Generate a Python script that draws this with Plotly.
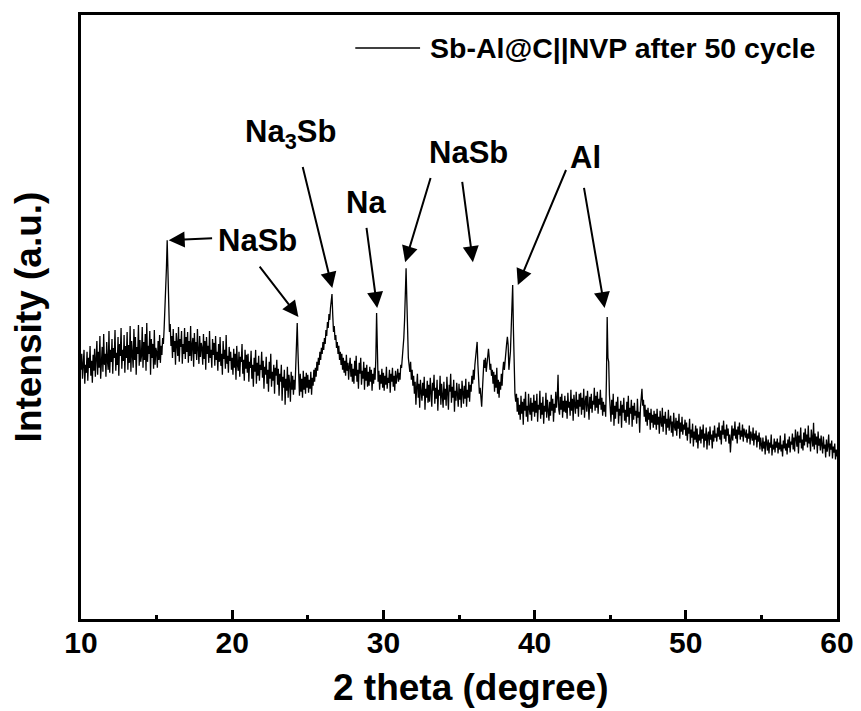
import plotly.graph_objects as go

# ---- data (intensity in arbitrary units) ----
scan_start = 10.0
scan_step = 0.05
intensity = [
    250, 266, 241, 258, 270, 236, 255, 247, 268, 239, 262, 252, 274, 244, 259, 237, 265, 249, 271, 243,  # 10
    256, 279, 245, 268, 252, 284, 241, 263, 273, 248, 286, 255, 266, 243, 278, 259, 250, 289, 247, 270,  # 11
    258, 281, 246, 272, 262, 290, 249, 267, 255, 283, 244, 276, 264, 292, 251, 270, 259, 285, 247, 274,  # 12
    262, 288, 250, 275, 257, 294, 248, 279, 265, 252, 291, 260, 283, 245, 273, 266, 295, 254, 280, 258,  # 13
    264, 293, 252, 278, 260, 286, 249, 297, 258, 274, 266, 289, 245, 281, 262, 276, 251, 290, 255, 272,  # 14
    268, 252, 279, 260, 285, 257, 274, 265, 282, 276, 292, 310, 322, 352, 380, 340, 300, 288, 296, 274,  # 15
    284, 262, 291, 268, 279, 255, 287, 270, 264, 293, 258, 281, 273, 289, 256, 276, 266, 292, 261, 283,  # 16
    268, 288, 257, 279, 264, 294, 259, 275, 282, 253, 287, 266, 278, 260, 291, 270, 256, 284, 263, 277,  # 17
    272, 255, 286, 261, 279, 250, 283, 266, 274, 257, 289, 262, 270, 252, 281, 265, 277, 254, 284, 260,  # 18
    268, 249, 276, 258, 283, 254, 266, 245, 279, 261, 270, 251, 285, 256, 264, 247, 273, 259, 268, 250,  # 19
    262, 245, 271, 252, 266, 240, 274, 255, 249, 268, 243, 263, 258, 276, 246, 260, 239, 270, 251, 265,  # 20
    247, 266, 238, 258, 252, 269, 241, 255, 233, 262, 248, 270, 236, 257, 244, 264, 239, 255, 250, 268,  # 21
    242, 259, 231, 253, 245, 263, 236, 250, 228, 258, 241, 266, 233, 248, 239, 255, 226, 252, 244, 260,  # 22
    235, 251, 224, 246, 238, 255, 219, 243, 232, 250, 215, 241, 229, 253, 222, 245, 236, 218, 248, 230,  # 23
    244, 225, 240, 230, 248, 266, 297, 268, 238, 224, 246, 228, 241, 222, 249, 230, 243, 226, 247, 232,  # 24
    245, 227, 240, 231, 248, 225, 242, 234, 250, 238, 252, 243, 258, 249, 262, 255, 268, 260, 272, 266,  # 25
    278, 270, 282, 276, 290, 284, 298, 292, 306, 300, 312, 318, 326, 305, 288, 294, 280, 285, 272, 278,  # 26
    266, 274, 260, 268, 255, 266, 250, 262, 247, 259, 244, 265, 249, 257, 240, 254, 262, 243, 256, 238,  # 27
    251, 236, 259, 244, 264, 238, 250, 231, 257, 246, 262, 235, 249, 241, 258, 230, 252, 239, 255, 233,  # 28
    248, 234, 253, 238, 250, 229, 246, 236, 252, 240, 262, 307, 270, 238, 249, 230, 245, 236, 251, 232,  # 29
    247, 229, 244, 235, 253, 231, 242, 237, 250, 227, 246, 238, 252, 233, 244, 229, 249, 236, 243, 251,  # 30
    238, 247, 240, 255, 252, 262, 270, 282, 300, 325, 352, 320, 280, 262, 255, 248, 258, 240, 250, 234,  # 31
    244, 226, 238, 215, 233, 246, 222, 236, 212, 240, 228, 219, 237, 224, 243, 210, 231, 222, 239, 217,  # 32
    235, 218, 242, 225, 213, 237, 229, 245, 216, 232, 221, 240, 209, 230, 224, 244, 215, 236, 226, 212,  # 33
    238, 220, 231, 214, 243, 225, 210, 235, 228, 246, 217, 233, 222, 240, 208, 229, 219, 237, 224, 213,  # 34
    236, 220, 231, 212, 239, 224, 216, 234, 221, 241, 213, 230, 222, 238, 218, 235, 228, 244, 236, 250,  # 35
    240, 255, 262, 272, 278, 255, 238, 226, 232, 218, 213, 230, 246, 260, 252, 262, 248, 258, 266, 271,  # 36
    262, 250, 256, 244, 250, 236, 248, 228, 245, 232, 252, 226, 240, 222, 238, 230, 246, 234, 250, 258,  # 37
    250, 262, 270, 276, 283, 275, 250, 256, 268, 290, 315, 335, 290, 250, 226, 218, 226, 208, 222, 205,  # 38
    215, 200, 224, 206, 218, 195, 221, 209, 228, 203, 214, 198, 226, 211, 205, 222, 199, 217, 208, 225,  # 39
    203, 219, 207, 226, 198, 215, 210, 229, 201, 217, 205, 223, 196, 214, 208, 227, 202, 220, 211, 199,  # 40
    218, 204, 225, 209, 221, 198, 216, 207, 228, 212, 222, 245, 210, 205, 223, 210, 226, 202, 219, 208,  # 41
    224, 207, 219, 201, 227, 212, 218, 204, 230, 209, 221, 199, 225, 214, 206, 228, 211, 220, 203, 226,  # 42
    213, 227, 205, 222, 210, 231, 202, 218, 224, 208, 229, 214, 200, 223, 211, 226, 207, 219, 215, 232,  # 43
    209, 224, 212, 228, 206, 221, 215, 230, 210, 222, 204, 218, 208, 215, 203, 240, 303, 262, 258, 225,  # 44
    212, 198, 220, 205, 226, 194, 214, 201, 218, 208, 223, 196, 211, 204, 219, 192, 215, 207, 222, 199,  # 45
    210, 197, 218, 203, 224, 195, 212, 206, 220, 193, 214, 200, 217, 204, 209, 196, 221, 202, 208, 187,  # 46
    212, 226, 231, 214, 220, 203, 215, 198, 210, 194, 212, 200, 207, 190, 211, 197, 205, 192, 209, 195,  # 47
    206, 190, 211, 195, 203, 186, 209, 198, 193, 212, 188, 204, 196, 208, 185, 201, 192, 210, 189, 199,  # 48
    204, 187, 198, 183, 207, 193, 189, 202, 184, 199, 191, 206, 181, 197, 188, 203, 185, 195, 190, 200,  # 49
    184, 197, 179, 192, 186, 201, 176, 190, 182, 196, 173, 188, 180, 194, 177, 191, 171, 185, 179, 193,  # 50
    176, 190, 181, 195, 172, 186, 179, 192, 170, 184, 188, 174, 193, 180, 185, 171, 189, 178, 194, 182,  # 51
    186, 178, 192, 183, 197, 180, 189, 175, 194, 185, 199, 181, 190, 178, 195, 184, 191, 176, 185, 167,  # 52
    186, 194, 179, 191, 184, 198, 181, 190, 176, 193, 185, 197, 180, 189, 183, 195, 178, 191, 186, 182,  # 53
    190, 177, 186, 181, 194, 175, 188, 183, 179, 192, 174, 186, 180, 189, 172, 184, 178, 187, 170, 182,  # 54
    176, 168, 182, 171, 178, 165, 184, 173, 169, 180, 166, 177, 172, 185, 164, 175, 170, 181, 167, 178,  # 55
    172, 181, 166, 177, 170, 184, 168, 175, 163, 179, 171, 186, 169, 176, 165, 180, 172, 183, 167, 178,  # 56
    175, 186, 170, 182, 168, 190, 176, 173, 188, 166, 184, 177, 192, 171, 180, 169, 187, 174, 191, 178,  # 57
    185, 172, 194, 176, 182, 168, 190, 179, 173, 197, 170, 186, 175, 183, 166, 188, 174, 181, 169, 184,  # 58
    177, 166, 183, 171, 175, 162, 180, 168, 174, 185, 163, 176, 170, 179, 161, 173, 167, 176, 160, 170,  # 59
    163,                                                                                                  # 60
]
two_theta = [round(scan_start + scan_step * i, 2) for i in range(len(intensity))]

series_name = "Sb-Al@C||NVP after 50 cycle"
x_title = "2 theta (degree)"
y_title = "Intensity (a.u.)"
x_ticks = [10, 20, 30, 40, 50, 60]
x_range = [10, 60]
y_range = [0, 606]

# phase labels: (text, x, y)
label_text = ["NaSb", "Na<sub>3</sub>Sb", "Na", "NaSb", "Al"]
label_x = [21.68, 23.85, 28.87, 35.66, 43.38]
label_y = [380, 487, 418, 468, 463]

# arrows: tail (x, y) -> head (x, y)
arrow_tail_x = [18.77, 21.74, 24.64, 28.87, 33.15, 35.20, 42.12, 43.25]
arrow_tail_y = [382, 355, 455, 394, 444, 440, 452, 434]
arrow_head_x = [15.80, 24.38, 26.62, 29.59, 31.44, 35.92, 38.89, 44.63]
arrow_head_y = [380, 303, 332, 312, 358, 358, 335, 312]

FONT = "Liberation Sans, Arial, sans-serif"

fig = go.Figure()
fig.add_trace(go.Scatter(
    x=two_theta, y=intensity, mode="lines", name=series_name,
    line=dict(color="black", width=1.3), showlegend=False,
))

annotations = []
for tx, ty, hx, hy in zip(arrow_tail_x, arrow_tail_y, arrow_head_x, arrow_head_y):
    annotations.append(dict(
        x=hx, y=hy, ax=tx, ay=ty, xref="x", yref="y", axref="x", ayref="y",
        text="", showarrow=True, arrowhead=2, arrowsize=1.6, arrowwidth=2,
        arrowcolor="black", standoff=0, startstandoff=0,
    ))
for t, x, y in zip(label_text, label_x, label_y):
    annotations.append(dict(
        x=x, y=y, xref="x", yref="y", text=t, showarrow=False,
        font=dict(family=FONT, size=31, color="black", weight="bold"),
        xanchor="center", yanchor="middle",
    ))
# manual legend
annotations.append(dict(
    x=0.459, y=0.9455, xref="paper", yref="paper", text=series_name,
    showarrow=False, xanchor="left", yanchor="middle",
    font=dict(family=FONT, size=28.5, color="black", weight="bold"),
))
# x-axis title (placed as in the reference, slightly right of centre)
annotations.append(dict(
    x=0.5158, y=-0.1139, xref="paper", yref="paper", text=x_title,
    showarrow=False, xanchor="center", yanchor="middle",
    font=dict(family=FONT, size=37, color="black", weight="bold"),
))

fig.update_layout(
    width=861, height=711, autosize=False,
    margin=dict(l=81, r=24, t=15, b=92),
    paper_bgcolor="white", plot_bgcolor="white",
    font=dict(family=FONT, color="black"),
    annotations=annotations,
    shapes=[dict(type="line", xref="paper", yref="paper",
                 x0=0.3628, x1=0.4485, y0=0.9455, y1=0.9455,
                 line=dict(color="black", width=1.5))],
)
fig.update_xaxes(
    range=x_range, tickvals=x_ticks, ticks="inside", ticklen=9, tickwidth=3,
    tickcolor="black", showline=True, linewidth=3, linecolor="black",
    mirror=True, showgrid=False, zeroline=False, automargin=False,
    ticklabelstandoff=-5,
    tickfont=dict(family=FONT, size=30, color="black", weight="bold"),
    minor=dict(dtick=5, ticks="inside", ticklen=4, tickwidth=3, tickcolor="black", showgrid=False),
)
fig.update_yaxes(
    range=y_range, showticklabels=False, ticks="", showline=True, linewidth=3,
    linecolor="black", mirror=True, showgrid=False, zeroline=False, automargin=False,
    title=dict(text=y_title, standoff=26,
               font=dict(family=FONT, size=37, color="black", weight="bold")),
)

fig.write_html("out.html", config={"displayModeBar": False},
               post_script="document.body.style.margin='0px';")
